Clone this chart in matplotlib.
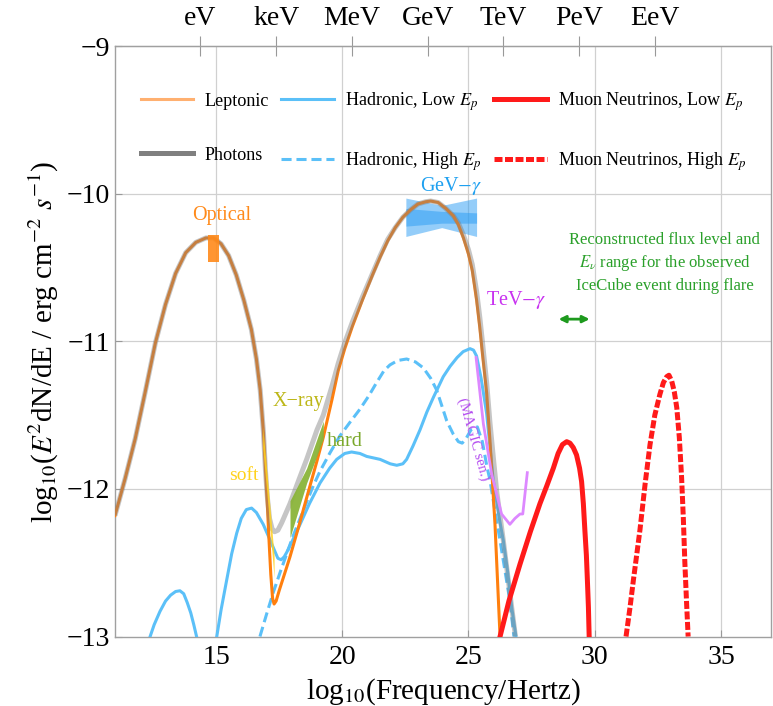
import matplotlib
matplotlib.use("Agg")
import matplotlib.pyplot as plt
import numpy as np
from matplotlib.lines import Line2D
from matplotlib.patches import FancyArrowPatch

plt.rcParams['font.family'] = ['Liberation Serif', 'DejaVu Serif']
plt.rcParams['mathtext.fontset'] = 'stix'

# --- model curves: log10(nu/Hz) vs log10(E^2 dN/dE / erg cm^-2 s^-1) ---
lep_x = [11.0, 11.4, 11.8, 12.2, 12.6, 13.0, 13.4, 13.8, 14.2, 14.6, 14.9, 15.2, 15.5, 15.8,
         16.1, 16.4, 16.6, 16.75, 16.88, 16.96, 17.03, 17.10, 17.17, 17.24, 17.30, 17.38, 17.50,
         17.80, 17.93, 18.3, 18.59, 19.0, 19.25, 19.6, 19.84, 20.1, 20.4, 20.8, 21.2, 21.5, 21.8,
         22.1, 22.4, 22.7, 23.0, 23.3, 23.5, 23.8, 24.1, 24.4, 24.6, 24.8, 25.0, 25.15, 25.32,
         25.45, 25.55, 25.72, 25.85, 26.05, 26.25]
lep_y = [-12.18, -11.93, -11.66, -11.34, -11.01, -10.75, -10.54, -10.40, -10.33, -10.30, -10.30, -10.34,
         -10.42, -10.55, -10.72, -10.92, -11.12, -11.33, -11.62, -11.88, -12.10, -12.35, -12.58, -12.74,
         -12.78, -12.76, -12.69, -12.53, -12.46, -12.24, -12.06, -11.81, -11.65, -11.39, -11.20, -11.05,
         -10.90, -10.72, -10.55, -10.43, -10.32, -10.23, -10.16, -10.11, -10.07, -10.055, -10.05, -10.06,
         -10.10, -10.15, -10.21, -10.30, -10.41, -10.52, -10.72, -10.91, -11.08, -11.35, -11.67, -12.24,
         -13.0]

pho_x = [11.0, 11.4, 11.8, 12.2, 12.6, 13.0, 13.4, 13.8, 14.2, 14.6, 14.9, 15.2, 15.5, 15.8,
         16.1, 16.4, 16.6, 16.75, 16.88, 16.96, 17.03, 17.12, 17.22, 17.32, 17.45, 17.6, 17.93,
         18.3, 18.59, 19.0, 19.25, 19.6, 19.84, 20.1, 20.4, 20.8, 21.2, 21.5, 21.8, 22.1, 22.4,
         22.7, 23.0, 23.3, 23.5, 23.8, 24.1, 24.4, 24.6, 24.8, 25.0, 25.15, 25.32, 25.45, 25.55,
         25.72, 25.85, 25.98, 26.12, 26.38, 26.71, 26.86]
pho_y = [-12.18, -11.93, -11.66, -11.34, -11.01, -10.75, -10.54, -10.40, -10.33, -10.30, -10.30, -10.34,
         -10.42, -10.55, -10.72, -10.92, -11.12, -11.33, -11.62, -11.88, -12.05, -12.20, -12.27, -12.29,
         -12.28, -12.23, -12.10, -11.93, -11.80, -11.60, -11.50, -11.30, -11.15, -11.01, -10.87, -10.70,
         -10.54, -10.42, -10.31, -10.23, -10.16, -10.11, -10.07, -10.055, -10.05, -10.06, -10.10, -10.15,
         -10.20, -10.28, -10.38, -10.48, -10.66, -10.84, -11.00, -11.28, -11.55, -11.78, -12.02, -12.35,
         -12.80, -13.0]

had_low_x = [12.39, 12.55, 12.78, 13.0, 13.2, 13.4, 13.57, 13.72, 13.86, 14.0, 14.12, 14.23, np.nan,
             15.03, 15.2, 15.42, 15.62, 15.82, 16.0, 16.2, 16.41, 16.6, 16.87, 17.1, 17.3, 17.45,
             17.58, 17.7, 17.8, 18.0, 18.33, 18.7, 19.12, 19.5, 19.78, 20.1, 20.37, 20.7, 20.97,
             21.5, 21.9, 22.16, 22.4, 22.55, 22.8, 23.08, 23.35, 23.61, 24.0, 24.27, 24.55, 24.79,
             25.06, 25.2, 25.32, 25.5, 25.72, 25.98, 26.2, 26.38, 26.55, 26.71, 26.88]
had_low_y = [-13.0, -12.92, -12.83, -12.76, -12.72, -12.695, -12.69, -12.71, -12.77, -12.84, -12.92, -13.0, np.nan,
             -13.0, -12.82, -12.62, -12.44, -12.30, -12.20, -12.14, -12.13, -12.16, -12.24, -12.33, -12.41,
             -12.47, -12.48, -12.46, -12.43, -12.36, -12.24, -12.10, -11.96, -11.86, -11.80, -11.76, -11.75,
             -11.76, -11.78, -11.80, -11.83, -11.84, -11.83, -11.80, -11.71, -11.60, -11.48, -11.38, -11.24,
             -11.17, -11.11, -11.07, -11.05, -11.06, -11.10, -11.25, -11.49, -11.94, -12.18, -12.35, -12.56,
             -12.80, -13.0]

had_high_x = [16.74, 17.0, 17.27, 17.55, 17.80, 18.05, 18.33, 18.59, 18.85, 19.12, 19.5, 19.91,
              20.3, 20.70, 21.05, 21.36, 21.65, 21.89, 22.2, 22.55, 22.9, 23.21, 23.5, 23.74, 23.95,
              24.14, 24.40, 24.6, 24.75, 24.9, 25.1, 25.35, 25.55, 25.72, 25.85, 26.05, 26.25, 26.45,
              26.64, 26.80]
had_high_y = [-13.0, -12.85, -12.70, -12.56, -12.44, -12.32, -12.20, -12.09, -11.98, -11.88, -11.76, -11.64,
              -11.55, -11.46, -11.37, -11.28, -11.20, -11.16, -11.13, -11.12, -11.14, -11.18, -11.25, -11.33,
              -11.44, -11.54, -11.63, -11.68, -11.69, -11.66, -11.60, -11.58, -11.68, -11.84, -11.94, -12.15,
              -12.35, -12.56, -12.76, -13.0]

nu_low_x = [26.25, 26.6, 27.04, 27.45, 27.83, 28.1, 28.36, 28.55, 28.72, 28.89, 29.02, 29.15,
            29.28, 29.40, 29.48, 29.55, 29.61, 29.67, 29.71, 29.75, 29.78]
nu_low_y = [-13.0, -12.76, -12.51, -12.29, -12.10, -11.98, -11.86, -11.76, -11.70, -11.68, -11.69, -11.72,
            -11.77, -11.86, -11.95, -12.10, -12.28, -12.45, -12.62, -12.80, -13.0]

nu_high_x = [31.24, 31.40, 31.53, 31.66, 31.79, 32.0, 32.19, 32.38, 32.58, 32.72, 32.85, 32.94,
             33.05, 33.15, 33.25, 33.35, 33.44, 33.51, 33.57, 33.64, 33.70]
nu_high_y = [-13.0, -12.80, -12.62, -12.45, -12.28, -11.96, -11.70, -11.50, -11.36, -11.28, -11.24, -11.23,
             -11.27, -11.34, -11.45, -11.65, -11.92, -12.20, -12.50, -12.78, -13.0]

magic_x = [25.30, 25.59, 25.92, 26.31, 26.64, 26.84, 27.04, 27.15, 27.24, 27.33]
magic_y = [-11.11, -11.56, -11.90, -12.17, -12.24, -12.20, -12.17, -12.17, -12.03, -11.89]

# --- observations ---
optical_x = [14.70, 15.10]
optical_lo = [-10.46, -10.46]
optical_hi = [-10.28, -10.28]

soft_x = [16.85, 17.05, 17.30]
soft_lo = [-11.72, -12.10, -12.60]
soft_hi = [-11.58, -11.95, -12.45]

hard_x = [17.93, 18.59, 19.25]
hard_lo = [-12.33, -11.96, -11.66]
hard_hi = [-12.08, -11.86, -11.54]

gev_x = [22.52, 23.94, 25.32]
gev_wide_lo = [-10.29, -10.23, -10.29]
gev_wide_hi = [-10.03, -10.08, -10.03]
gev_band_lo = [-10.22, -10.20, -10.20]
gev_band_hi = [-10.10, -10.12, -10.13]

icecube_x = [28.46, 29.91]
icecube_y = -10.85

# top axis: photon energies converted to frequency
energy_labels = ['eV', 'keV', 'MeV', 'GeV', 'TeV', 'PeV', 'EeV']
ev_log_hz = np.log10(2.418e14)
energy_ticks = [ev_log_hz + 3 * i for i in range(len(energy_labels))]

c_lep = '#ff7f0e'
c_pho = '#808080'
c_had = '#5bc0f8'
c_nu = '#ff1a1a'

fig = plt.figure(figsize=(7.73, 7.06), dpi=100)
ax = fig.add_axes([0.1488, 0.0984, 0.8492, 0.8364])

for xv in [15, 20, 25, 30, 35]:
    ax.axvline(xv, color='#d0d0d0', lw=0.9, zorder=0)
for yv in [-10, -11, -12]:
    ax.axhline(yv, color='#d0d0d0', lw=0.9, zorder=0)

# data regions
ax.fill_between(optical_x, optical_lo, optical_hi, color='#ff8a1a', alpha=0.9, lw=0, zorder=4)
ax.fill_between(soft_x, soft_lo, soft_hi, color='#ffd21e', alpha=0.85, lw=0, zorder=4)
ax.fill_between(hard_x, hard_lo, hard_hi, color='#8ab43a', alpha=0.95, lw=0, zorder=4)
ax.fill_between(gev_x, gev_wide_lo, gev_wide_hi, color='#2a9df4', alpha=0.5, lw=0, zorder=2)
ax.fill_between(gev_x, gev_band_lo, gev_band_hi, color='#2a9df4', alpha=0.5, lw=0, zorder=2)

# model curves
ax.plot(had_low_x, had_low_y, color=c_had, lw=2.2, zorder=3)
ax.plot(had_high_x, had_high_y, color=c_had, lw=2.2, ls=(0, (3.3, 1.6)), zorder=3)
ax.plot(lep_x, lep_y, color=c_lep, lw=2.2, zorder=3)
ax.plot(pho_x, pho_y, color=c_pho, lw=3.6, alpha=0.45, zorder=3, solid_capstyle='butt')
ax.plot(magic_x, magic_y, color='#dd88ff', lw=2.0, zorder=3)
ax.plot(nu_low_x, nu_low_y, color=c_nu, lw=3.6, zorder=3)
ax.plot(nu_high_x, nu_high_y, color=c_nu, lw=3.6, ls=(0, (1.6, 0.5)), zorder=3)

arrow = FancyArrowPatch((icecube_x[0], icecube_y), (icecube_x[1], icecube_y),
                        arrowstyle='<|-|>', mutation_scale=10, color='#1e9a1e', lw=2, zorder=5)
ax.add_patch(arrow)

# labels on the plot
ax.text(15.23, -10.15, 'Optical', color='#ff8a1a', fontsize=14.5, ha='center', va='center')
ax.text(16.11, -11.91, 'soft', color='#ffd21e', fontsize=14, ha='center', va='center')
ax.text(18.25, -11.41, 'X\u2212ray', color='#bdb719', fontsize=14.5, ha='center', va='center')
ax.text(20.1, -11.68, 'hard', color='#7aa82a', fontsize=14.5, ha='center', va='center')
ax.text(24.31, -9.945, r'GeV$-\gamma$', color='#1ea0f0', fontsize=14.5, ha='center', va='center')
ax.text(26.88, -10.72, r'TeV$-\gamma$', color='#c832f0', fontsize=14.5, ha='center', va='center')
ax.text(25.18, -11.66, '(MAGIC sen.)', color='#b44cf0', fontsize=10.5, ha='center', va='center',
        rotation=-74)
ax.text(32.78, -10.47,
        'Reconstructed flux level and\n' + r'$E_{\nu}$' + ' range for the observed\nIceCube event during flare',
        color='#2aa02a', fontsize=12, ha='center', va='center', linespacing=1.4)

ax.set_xlim(11, 37)
ax.set_ylim(-13, -9)
ax.set_xticks([15, 20, 25, 30, 35])
ax.set_yticks([-13, -12, -11, -10, -9])
ax.tick_params(labelsize=20, color='#999999', direction='in', length=5)
ax.tick_params(axis='x', pad=6)
for s in ax.spines.values():
    s.set_color('#a0a0a0')
    s.set_linewidth(1.0)

ax.set_xlabel(r'log$_{10}$(Frequency/Hertz)', fontsize=21, labelpad=5)
ax.set_ylabel(r'log$_{10}$($E^2$dN/dE / erg cm$^{-2}$ $s^{-1}$)', fontsize=21, labelpad=4)

top = ax.secondary_xaxis('top')
top.set_xticks(energy_ticks)
top.set_xticklabels(energy_labels)
top.tick_params(labelsize=20, color='#999999', direction='inout', length=14, pad=4)
top.spines['top'].set_color('#a0a0a0')

handles = [
    Line2D([], [], color='#ffb070', lw=2.2),
    Line2D([], [], color='#808080', lw=3.6),
    Line2D([], [], color=c_had, lw=2.2),
    Line2D([], [], color=c_had, lw=2.2, ls=(0, (3.3, 1.6))),
    Line2D([], [], color=c_nu, lw=3.6),
    Line2D([], [], color=c_nu, lw=3.6, ls=(0, (1.6, 0.5))),
]
labels = ['Leptonic', 'Photons', r'Hadronic, Low $E_p$', r'Hadronic, High $E_p$',
          r'Muon Neutrinos, Low $E_p$', r'Muon Neutrinos, High $E_p$']
ax.legend(handles, labels, ncol=3, loc='upper left', bbox_to_anchor=(0.039, 0.925),
          frameon=False, fontsize=13.1, handlelength=2.9, handletextpad=0.6,
          columnspacing=0.7, labelspacing=2.05, borderpad=0, borderaxespad=0)

fig.savefig('out.png', dpi=100)
